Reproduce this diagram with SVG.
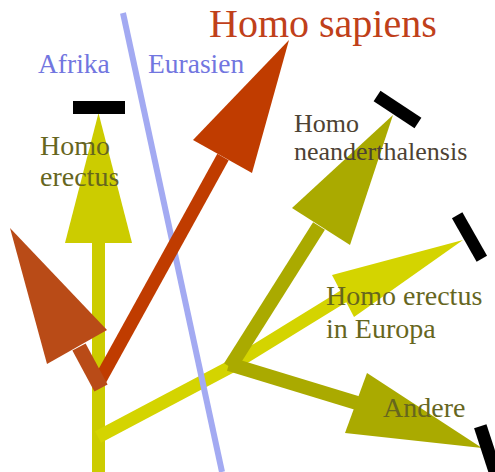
<svg xmlns="http://www.w3.org/2000/svg" width="495" height="472" viewBox="0 0 495 472">
<style>
text{font-family:"Liberation Serif","Times New Roman",serif;}
.bar{fill:#000;}
.region{fill:#7276e0;font-size:27.5px;}
.olive{fill:#66661e;font-size:28px;}
.brown{fill:#4d4233;font-size:26px;}
</style>
<rect width="495" height="472" fill="#fff"/>
<g id="connectors" fill="none" stroke-linecap="butt">
<line x1="98.5" y1="472" x2="98.5" y2="240" stroke="#cccc00" stroke-width="13"/>
<line x1="98" y1="437" x2="234" y2="365" stroke="#d4d400" stroke-width="13"/>
<line id="border" x1="123" y1="13" x2="222" y2="472" stroke="#a3aaf2" stroke-width="6"/>
<line x1="232" y1="365" x2="344" y2="296" stroke="#d4d400" stroke-width="13"/>
<line x1="230" y1="367" x2="319" y2="226" stroke="#aaaa00" stroke-width="14"/>
<line x1="229" y1="364" x2="357" y2="403" stroke="#aaaa00" stroke-width="14"/>
<line x1="100" y1="380" x2="223" y2="157" stroke="#c03c00" stroke-width="13"/>
<line x1="79" y1="347" x2="101" y2="388" stroke="#b94b17" stroke-width="15"/>
</g>
<g id="homo-erectus">
<polygon points="98.5,113 132,243 65,243" fill="#cccc00"/>
<rect class="bar" x="73" y="101" width="52" height="13"/>
<text class="olive" x="40" y="155">Homo</text>
<text class="olive" x="40" y="186">erectus</text>
</g>
<g id="homo-sapiens">
<polygon points="289,40 252,173 193,140" fill="#c03c00"/>
<text x="209" y="37" fill="#c0401a" font-size="40">Homo sapiens</text>
</g>
<g id="homo-sapiens-back">
<polygon points="10,228 107,330 47,364" fill="#b94b17"/>
</g>
<g id="homo-neanderthalensis">
<polygon points="393,115 350,245 292,208" fill="#aaaa00"/>
<rect class="bar" x="-24.5" y="-6.25" width="49" height="12.5" transform="translate(397.5 109.5) rotate(33.4)"/>
<text class="brown" x="294" y="132">Homo</text>
<text class="brown" x="294" y="160">neanderthalensis</text>
</g>
<g id="homo-erectus-europa">
<polygon points="463,240 354,317 332,275" fill="#d4d400"/>
<rect class="bar" x="-25" y="-6" width="50" height="12" transform="translate(469.5 237) rotate(60.4)"/>
<text class="olive" x="326" y="305" fill="#5f5f1f">Homo erectus</text>
<text class="olive" x="326" y="338" fill="#5f5f1f">in Europa</text>
</g>
<g id="andere">
<polygon points="482,448 345,433 367,373" fill="#aaaa00"/>
<rect class="bar" x="-25" y="-6.5" width="50" height="13" transform="translate(488 450) rotate(72)"/>
<text class="olive" x="383" y="417" fill="#5f5f1f">Andere</text>
</g>
<g id="regions">
<text class="region" x="38" y="73">Afrika</text>
<text class="region" x="148" y="73">Eurasien</text>
</g>
</svg>
